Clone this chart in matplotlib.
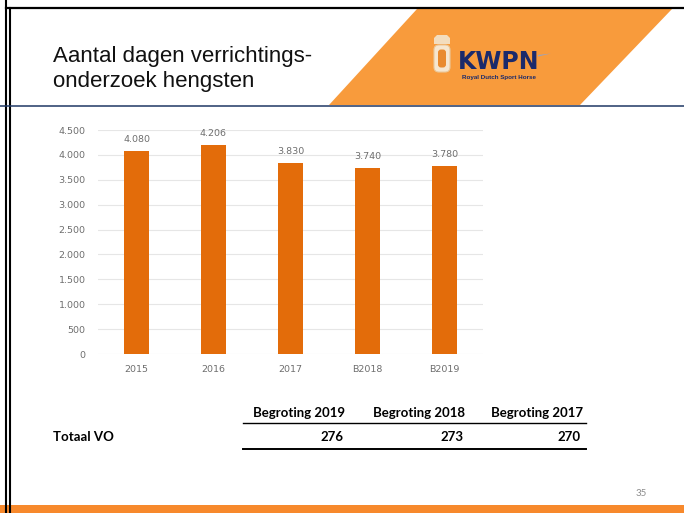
import matplotlib
matplotlib.use("Agg")
import matplotlib.pyplot as plt
from matplotlib.patches import Polygon, Rectangle, FancyBboxPatch

# ---- data ----
categories = ["2015", "2016", "2017", "B2018", "B2019"]
values = [4080, 4206, 3830, 3740, 3780]
y_ticks = [0, 500, 1000, 1500, 2000, 2500, 3000, 3500, 4000, 4500]

title_lines = ["Aantal dagen verrichtings-", "onderzoek hengsten"]
table_headers = ["Begroting 2019", "Begroting 2018", "Begroting 2017"]
table_row_label = "Totaal VO"
table_values = [276, 273, 270]
page_number = "35"

W, H = 684, 513
fig = plt.figure(figsize=(W / 100, H / 100), dpi=100)
fig.patch.set_facecolor("white")

# ---- decoration overlay in pixel coordinates ----
deco = fig.add_axes([0, 0, 1, 1])
deco.set_xlim(0, W)
deco.set_ylim(H, 0)
deco.axis("off")

# orange parallelogram header
deco.add_patch(Polygon([(329, 105), (417, 9), (672, 9), (580, 105)],
                       closed=True, facecolor="#F89B3C", edgecolor="none", zorder=1))
# borders
deco.plot([6, 6], [0, H], color="black", lw=1.5, zorder=5)
deco.plot([10, 10], [8, H], color="black", lw=1.5, zorder=5)
deco.plot([6, W], [8, 8], color="black", lw=1.6, zorder=5)
deco.plot([0, W], [106, 106], color="#1F3864", lw=1.1, zorder=5)
# bottom orange bar
deco.add_patch(Rectangle((0, 505), W, 8, facecolor="#F7892C", edgecolor="none", zorder=4))

# title
deco.text(53, 62, title_lines[0], fontsize=16, family="Liberation Sans",
          color="#111111", va="baseline", ha="left", zorder=6)
deco.text(53, 87, title_lines[1], fontsize=16, family="Liberation Sans",
          color="#111111", va="baseline", ha="left", zorder=6)

# logo
deco.add_patch(Polygon([(434, 38), (437, 35), (447, 35), (450, 38), (450, 44), (434, 44)],
                       closed=True, facecolor="#F3DDBE", edgecolor="none", zorder=6))
deco.add_patch(FancyBboxPatch((435, 46), 14, 25, boxstyle="round,pad=1,rounding_size=5",
                              facecolor="#F6E6CF", edgecolor="#EAC99C", lw=0.8, zorder=6))
deco.add_patch(FancyBboxPatch((438.5, 50), 7, 17, boxstyle="round,pad=0.5,rounding_size=3",
                              facecolor="#E98A2E", edgecolor="none", zorder=7))
deco.text(458, 69, "KWPN", fontsize=17, fontweight="bold", family="DejaVu Sans",
          color="#1B2A6B", ha="left", va="baseline", zorder=7)
deco.add_patch(Polygon([(538, 55), (551, 53.5), (538, 56.5)], closed=True,
                       facecolor="#9AA3C0", edgecolor="none", zorder=7))
deco.text(499, 77, "Royal Dutch Sport Horse", fontsize=4.5, fontweight="bold",
          family="Liberation Sans", color="#1B2A6B", ha="center", va="center", zorder=7)

# table
tfont = dict(family="Lato", fontsize=9.5, fontweight="bold", color="black")
header_right = [345, 465, 583]
for x, h in zip(header_right, table_headers):
    deco.text(x, 413, h, ha="right", va="center", zorder=6, **tfont)
deco.plot([243, 586], [423, 423], color="black", lw=1.0, zorder=6)
deco.text(53, 437, table_row_label, ha="left", va="center", zorder=6, **tfont)
for x, v in zip(header_right, table_values):
    deco.text(x - 2, 437, str(v), ha="right", va="center", zorder=6, **tfont)
deco.plot([243, 586], [448.5, 448.5], color="black", lw=1.4, zorder=6)

# page number
deco.text(641, 494, page_number, fontsize=7, family="Lato", color="#8C8C8C",
          ha="center", va="center", zorder=6)

# ---- bar chart ----
ax = fig.add_axes([98 / W, (H - 354) / H, 385 / W, 224 / H])
ax.patch.set_alpha(0)
x = list(range(len(categories)))
bars = ax.bar(x, values, width=0.33, color="#E36C0A", zorder=3)
ax.set_xlim(-0.5, len(categories) - 0.5)
ax.set_ylim(0, 4500)
ax.set_yticks(y_ticks)
ax.set_yticklabels([f"{v:,}".replace(",", ".") for v in y_ticks])
ax.set_xticks(x)
ax.set_xticklabels(categories)
ax.grid(axis="y", color="#E6E6E6", lw=0.8, zorder=0)
for s in ax.spines.values():
    s.set_visible(False)
ax.tick_params(axis="both", length=0, labelsize=6.8, labelcolor="#6E6E6E")
ax.tick_params(axis="x", pad=8)
ax.tick_params(axis="y", pad=9)
for b, v in zip(bars, values):
    ax.annotate(f"{v:,}".replace(",", "."), (b.get_x() + b.get_width() / 2, v),
                xytext=(0, 5), textcoords="offset points", ha="center", va="bottom",
                fontsize=6.8, color="#6E6E6E")

fig.savefig("out.png", dpi=100)
